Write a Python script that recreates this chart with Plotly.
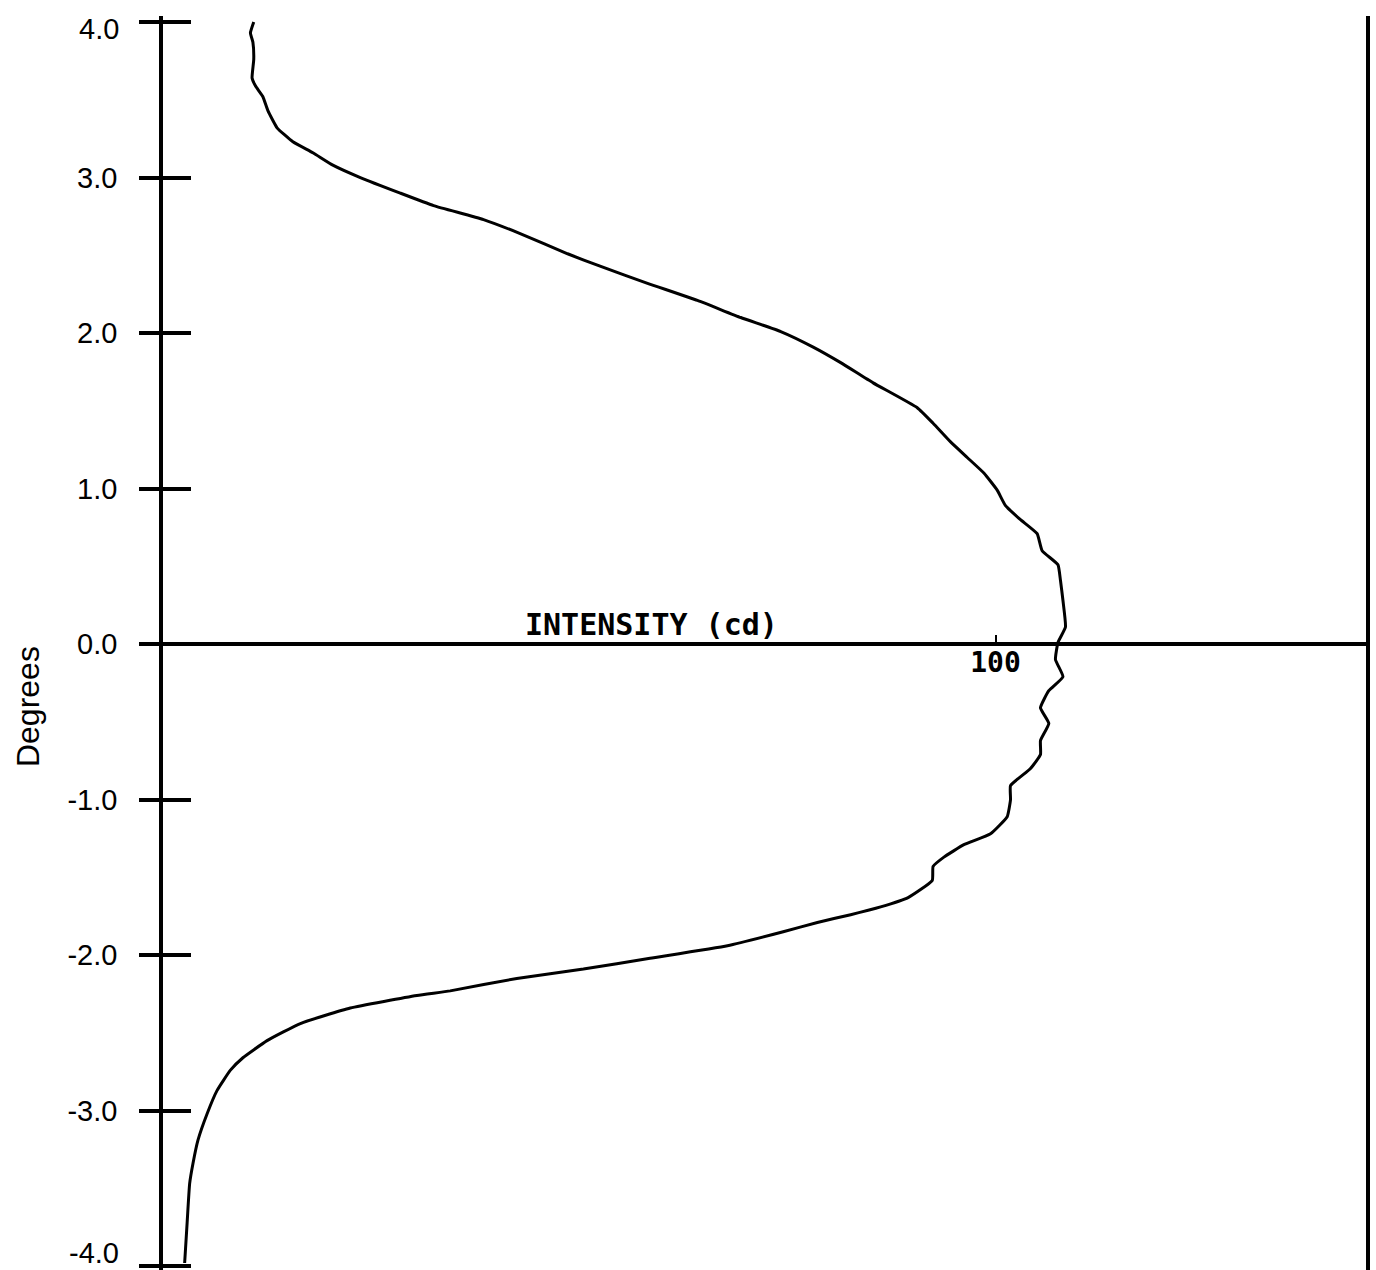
import plotly.graph_objects as go

# Intensity profile: vertical angle (degrees) vs luminous intensity (cd)
degrees = [
    4.00, 3.93, 3.87, 3.76, 3.64, 3.59, 3.52, 3.43, 3.32, 3.23, 3.16, 3.08,
    3.00, 2.90, 2.82, 2.73, 2.64, 2.51, 2.43, 2.32, 2.21, 2.10, 2.01, 1.91,
    1.81, 1.68, 1.52, 1.42, 1.30, 1.20, 1.10, 0.99, 0.89, 0.80, 0.71, 0.60,
    0.51, 0.41, 0.28, 0.11, 0.01, -0.10, -0.21, -0.30, -0.41, -0.51, -0.62,
    -0.71, -0.80, -0.91, -1.00, -1.11, -1.22, -1.29, -1.37, -1.43, -1.52,
    -1.63, -1.69, -1.74, -1.79, -1.85, -1.94, -2.02, -2.09, -2.15, -2.23,
    -2.26, -2.34, -2.44, -2.55, -2.66, -2.74, -2.87, -3.02, -3.19, -3.34,
    -3.47, -3.72, -3.98,
]
intensity = [
    10.9, 10.5, 10.8, 10.9, 10.7, 11.1, 12.0, 12.6, 13.7, 15.6, 18.0, 20.4,
    23.7, 28.5, 32.5, 38.5, 42.9, 48.6, 52.5, 58.2, 64.2, 69.4, 74.2, 78.1,
    81.4, 85.3, 90.6, 92.5, 94.6, 96.6, 98.6, 100.2, 101.2, 103.0, 105.0, 105.6,
    107.5, 107.8, 108.1, 108.4, 107.5, 107.2, 108.1, 106.4, 105.4, 106.4, 105.4,
    105.4, 104.2, 101.8, 101.8, 101.4, 99.4, 96.2, 93.8, 92.5, 92.4,
    89.5, 86.2, 82.6, 78.6, 74.5, 67.8, 58.5, 50.5, 42.5, 34.5,
    30.5, 22.5, 16.5, 12.5, 9.6, 8.1, 6.5, 5.3, 4.2, 3.6,
    3.2, 2.9, 2.6,
]

y_tick_vals = [4.0, 3.0, 2.0, 1.0, 0.0, -1.0, -2.0, -3.0, -4.0]
y_tick_text = ["4.0", "3.0", "2.0", "1.0", "0.0", "-1.0", "-2.0", "-3.0", "-4.0"]
x_tick_vals = [100]
x_tick_text = ["100"]

X_RANGE = [0, 144.5]
Y_RANGE = [-4.025, 4.039]

AXIS_W = 3.5
LABEL_FAMILY = "Liberation Sans, Arial, sans-serif"
label_font = dict(family=LABEL_FAMILY, size=29, color="black")
mono_font = dict(family="DejaVu Sans Mono, monospace", size=28, color="black", weight="bold")

# the end labels sit inside the page, nudged toward the middle of the axis
edge_shift = {4.0: -7, -4.0: 13}
axis_text = [("" if v in edge_shift else t) for v, t in zip(y_tick_vals, y_tick_text)]

fig = go.Figure()
fig.add_trace(go.Scatter(
    x=intensity, y=degrees, mode="lines",
    line=dict(color="black", width=3, shape="spline", smoothing=0.4),
    showlegend=False, hoverinfo="skip",
))

# horizontal intensity axis sits on the 0-degree line
x_pos = (0 - Y_RANGE[0]) / (Y_RANGE[1] - Y_RANGE[0])

fig.update_layout(
    width=1376, height=1270,
    margin=dict(l=163, r=10, t=16, b=0),
    paper_bgcolor="white", plot_bgcolor="white",
    xaxis=dict(
        range=X_RANGE, anchor="free", position=x_pos,
        showgrid=False, zeroline=False,
        showline=True, linecolor="black", linewidth=AXIS_W,
        tickvals=x_tick_vals, ticktext=x_tick_text,
        ticks="inside", ticklen=7, tickwidth=2, tickcolor="black",
        tickfont=mono_font, ticklabelstandoff=-7,
    ),
    yaxis=dict(
        range=Y_RANGE, anchor="x",
        showgrid=False, zeroline=False,
        showline=True, mirror=True, linecolor="black", linewidth=AXIS_W,
        tickvals=y_tick_vals, ticktext=axis_text,
        ticks="outside", ticklen=20, tickwidth=AXIS_W, tickcolor="black",
        tickfont=label_font, ticklabelstandoff=16,
    ),
    # second copy of the degree axis supplies the inner half of each cross tick
    yaxis2=dict(
        range=Y_RANGE, overlaying="y", anchor="x", side="left",
        showgrid=False, zeroline=False, showline=False,
        tickvals=y_tick_vals, showticklabels=False,
        ticks="inside", ticklen=28, tickwidth=AXIS_W, tickcolor="black",
    ),
)

# invisible trace to activate the overlaying axis
fig.add_trace(go.Scatter(x=[None], y=[None], yaxis="y2", showlegend=False, hoverinfo="skip"))

for v, t in zip(y_tick_vals, y_tick_text):
    if v in edge_shift:
        fig.add_annotation(
            text=t, x=0, y=v, xref="paper", yref="y",
            xanchor="right", yanchor="middle", xshift=-42, yshift=edge_shift[v],
            showarrow=False, font=label_font,
        )

fig.add_annotation(
    text="INTENSITY (cd)", x=58.65, y=0, xref="x", yref="y",
    xanchor="center", yanchor="bottom", showarrow=False,
    font=dict(family="DejaVu Sans Mono, monospace", size=30, color="black", weight="bold"),
)
fig.add_annotation(
    text="Degrees", x=0, y=-0.405, xref="paper", yref="y",
    xanchor="center", yanchor="middle", xshift=-135, textangle=-90,
    showarrow=False, font=dict(family=LABEL_FAMILY, size=32, color="black"),
)

fig.write_html("out.html")
